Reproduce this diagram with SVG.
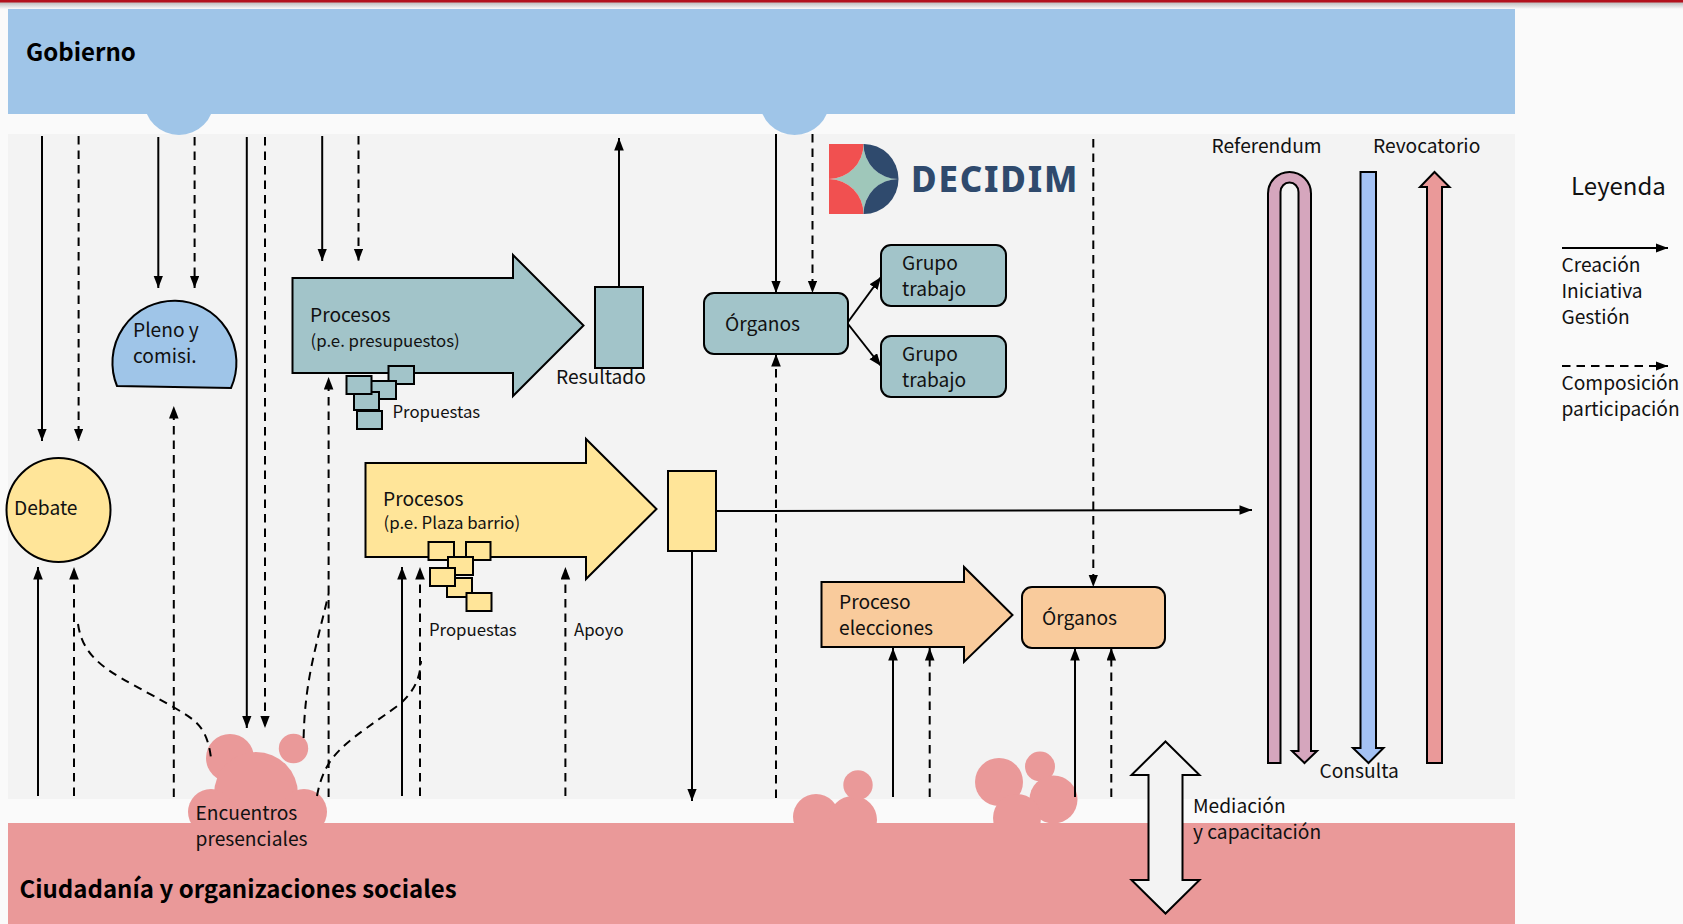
<svg xmlns="http://www.w3.org/2000/svg" width="1683" height="924" viewBox="0 0 1683 924">
<style>
text{font-family:"Noto Sans CJK SC","Noto Sans",sans-serif;fill:#111;font-size:19.2px}
.s{font-size:16.8px}
.v{font-size:16.8px}
.b{font-size:24px;font-weight:700;fill:#000}
.k{stroke:#000;stroke-width:2;stroke-linejoin:miter}
.l{fill:none;stroke:#000;stroke-width:2}
.a{marker-end:url(#h)}
.d{stroke-dasharray:8.5 6}
.t{fill:#a2c4c9}.y{fill:#ffe599}.o{fill:#f9cb9c}.p{fill:#ea9999}.u{fill:#9fc5e8}
</style>
<defs>
<marker id="h" markerUnits="userSpaceOnUse" markerWidth="13" markerHeight="10" refX="12.5" refY="4.8" orient="auto"><path d="M0 0L12.5 4.800L0 9.600z" fill="#000"/></marker>
<linearGradient id="sh" x1="0" y1="0" x2="0" y2="1"><stop offset="0" stop-color="#b9b9b9"/><stop offset="1" stop-color="#fafafa"/></linearGradient>
</defs>
<rect width="1683" height="924" fill="#fafafa"/>
<rect y="2" width="1683" height="7" fill="url(#sh)"/>
<rect width="1683" height="2.500" fill="#b3121d"/>
<g id="panel"><rect x="8" y="134" width="1507" height="665" fill="#f3f3f3"/></g>
<g id="gobierno">
<circle class="u" cx="179" cy="100" r="35"/><circle class="u" cx="794.600" cy="100" r="35"/>
<rect class="u" x="8" y="9" width="1507" height="105"/>
<text class="b" x="26" y="61">Gobierno</text>
</g>
<g transform="translate(0,1)">
<g id="ciudadania">
<g class="p">
<circle cx="230" cy="757" r="24"/><circle cx="256" cy="793" r="42"/><circle cx="293.500" cy="747.500" r="14.700"/><circle cx="211" cy="811" r="23"/><circle cx="304" cy="811" r="23"/>
<circle cx="816" cy="816" r="23"/><circle cx="853" cy="819" r="24"/><circle cx="858" cy="784" r="14.700"/>
<circle cx="999" cy="781" r="24"/><circle cx="1040" cy="765.500" r="15"/><circle cx="1053.500" cy="798.500" r="24"/><circle cx="1017" cy="817" r="24"/>
<rect x="8" y="822" width="1507" height="102"/>
</g>
<text class="b" x="19.500" y="896.500">Ciudadanía y organizaciones sociales</text>
<text x="195.500" y="819">Encuentros</text><text x="195.500" y="845">presenciales</text>
</g>
<g id="connectors">
<path class="l a" d="M42 135V440"/><path class="l a d" d="M78.600 135V440"/>
<path class="l a" d="M158.300 136V287"/><path class="l a d" d="M194.600 136V287"/>
<path class="l a" d="M246.800 136V727"/><path class="l a d" d="M265 136V727"/>
<path class="l a" d="M322.200 135V260"/><path class="l a d" d="M358.500 135V260"/>
<path class="l a d" d="M173.800 796V405"/><path class="l a d" d="M328.600 796V376"/>
<path class="l a" d="M38 795V566"/><path class="l a d" d="M74 795V566"/>
<path class="l a" d="M402 795V566"/><path class="l a d" d="M420 795V566"/>
<path class="l a d" d="M565.400 795V566"/>
<path class="l a" d="M619 286V137"/>
<path class="l a" d="M776 133V292"/><path class="l a d" d="M812.500 133V292"/>
<path class="l a d" d="M776 797V353"/><path class="l a d" d="M1093.300 138V586"/>
<path class="l a" d="M848 321L881 276"/><path class="l a" d="M848 323L881 365"/>
<path class="l a" d="M716 510L1252 509"/><path class="l a" d="M692 550V800"/>
<path class="l a" d="M893 796V647"/><path class="l a d" d="M929.700 796V647"/>
<path class="l a" d="M1075 796V647"/><path class="l a d" d="M1111.300 796V647"/>
<path class="l d" d="M78 623C84 665 120 675 175 707C195 719 207 725 211 757"/>
<path class="l d" d="M303.600 737C305 680 315 650 328.600 593"/>
<path class="l d" d="M317 795C325 750 350 740 400 703C412 692 420 680 421 660"/>
<path class="l a" d="M1562 247H1668"/><path class="l a d" d="M1562 365H1668"/>
</g>
<g id="logo" transform="translate(0,-1)">
<path d="M863.500 144A34.500 35 0 0 0 898 179A34.500 35 0 0 0 863.500 214A34.500 35 0 0 0 829 179A34.500 35 0 0 0 863.500 144z" fill="#9fc7ba"/>
<path d="M829 144H863.500A34.500 35 0 0 1 829 179z" fill="#f15050"/>
<path d="M829 214H863.500A34.500 35 0 0 0 829 179z" fill="#f15050"/>
<path d="M863.500 144A34.500 35 0 0 1 898.500 179A34.500 35 0 0 1 863.500 144z" fill="#2f4a6d"/>
<path d="M898.500 179A34.500 35 0 0 1 863.500 214A34.500 35 0 0 1 898.500 179z" fill="#2f4a6d"/>
<text x="911" y="192" style="font-family:'Noto Sans',sans-serif;font-size:35px;font-weight:800;fill:#2f4a6d;letter-spacing:1.800px">DECIDIM</text>
</g>
<g id="pleno"><path class="k u" d="M117 385A62 62 0 1 1 231 387z"/><text x="133" y="336">Pleno y</text><text x="133" y="362">comisi.</text></g>
<g id="debate"><circle class="k y" cx="58.500" cy="509" r="52"/><text x="14" y="514">Debate</text></g>
<g id="proceso-presupuestos">
<path class="k t" d="M292.500 277H513V254L583.500 324.500L513 395V372H292.500z"/>
<text x="310" y="321">Procesos</text><text class="s" x="310.500" y="345.500">(p.e. presupuestos)</text>
</g>
<g id="propuestas-teal">
<rect class="k t" x="388.500" y="365" width="25.500" height="18"/><rect class="k t" x="371" y="380" width="25" height="18"/><rect class="k t" x="354" y="391" width="25" height="18"/><rect class="k t" x="346.500" y="375" width="25" height="18"/><rect class="k t" x="357" y="410" width="25" height="18"/>
<text class="v" x="392.500" y="417">Propuestas</text>
</g>
<g id="resultado"><rect class="k t" x="595" y="286" width="48" height="81"/><text x="556" y="383">Resultado</text></g>
<g id="proceso-plaza">
<path class="k y" d="M365.500 462H586V438L656.500 508L586 578V556H365.500z"/>
<text x="383" y="504.500">Procesos</text><text class="s" x="383.500" y="528">(p.e. Plaza barrio)</text>
</g>
<g id="propuestas-yellow">
<rect class="k y" x="447" y="577" width="25" height="19"/><rect class="k y" x="428.500" y="541" width="25.500" height="18"/><rect class="k y" x="466" y="541" width="24.500" height="18"/><rect class="k y" x="448" y="556" width="25" height="18"/><rect class="k y" x="430" y="567" width="25" height="18"/><rect class="k y" x="466.500" y="592" width="25" height="18"/>
<text class="v" x="429" y="635">Propuestas</text>
</g>
<g id="apoyo"><text class="v" x="574" y="635">Apoyo</text></g>
<g id="resultado-plaza"><rect class="k y" x="668" y="470" width="48" height="80"/></g>
<g id="organos-teal"><rect class="k t" x="704" y="292" width="144" height="61" rx="10"/><text x="725" y="330">Órganos</text></g>
<g id="grupo1"><rect class="k t" x="881" y="244" width="125" height="61" rx="10"/><text x="902" y="268.500">Grupo</text><text x="902" y="294.500">trabajo</text></g>
<g id="grupo2"><rect class="k t" x="881" y="335" width="125" height="61" rx="10"/><text x="902" y="359.500">Grupo</text><text x="902" y="385.500">trabajo</text></g>
<g id="proceso-elecciones">
<path class="k o" d="M821.500 581H964V566L1012.500 614L964 661V646H821.500z"/>
<text x="839" y="608">Proceso</text><text x="839" y="634">elecciones</text>
</g>
<g id="organos-orange"><rect class="k o" x="1022" y="586" width="143" height="61" rx="10"/><text x="1042" y="624">Órganos</text></g>
<g id="referendum">
<path class="k" fill="#d5a6bd" d="M1268 762V192.500A21.500 21.500 0 0 1 1311 192.500V750H1317L1304.500 762L1292 750H1298.500V191A9 9.500 0 0 0 1280.500 191V762z"/>
<text x="1211.500" y="152">Referendum</text>
</g>
<g id="consulta">
<path class="k" fill="#a4c2f4" d="M1360.500 171H1376V747H1383.500L1368.500 762L1353 747H1360.500z"/>
<text x="1319.500" y="777">Consulta</text>
</g>
<g id="revocatorio">
<path class="k p" d="M1427 762V186H1420L1434.500 171L1449.500 186H1442V762z"/>
<text x="1373" y="152">Revocatorio</text>
</g>
<g id="mediacion">
<path class="k" fill="#f3f3f3" d="M1165.500 740.500L1199.500 774H1182.500V879H1199.500L1165.500 912.500L1131.500 879H1148.500V774H1131.500z"/>
<text x="1193" y="812">Mediación</text><text x="1193" y="838">y capacitación</text>
</g>
<g id="leyenda">
<text x="1571" y="194" style="font-size:24px">Leyenda</text>
<text x="1561.500" y="271">Creación</text><text x="1561.500" y="297">Iniciativa</text><text x="1561.500" y="323">Gestión</text>
<text x="1561.500" y="389">Composición</text><text x="1561.500" y="415">participación</text>
</g>
</g>
</svg>
